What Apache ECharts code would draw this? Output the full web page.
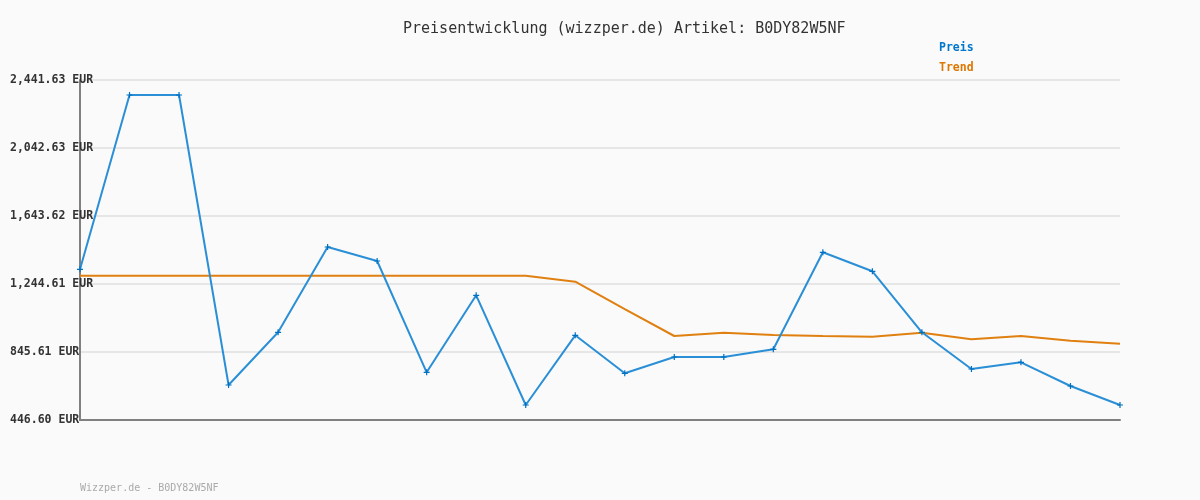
<!DOCTYPE html>
<html>
<head>
<meta charset="utf-8">
<script src="https://cdn.jsdelivr.net/npm/echarts@6/dist/echarts.min.js"></script>
<style>
html,body{margin:0;padding:0;background:#fafafa;}
#chart{width:1200px;height:500px;}
</style>
</head>
<body>
<div id="chart"></div>
<script>
const categories = ['1','2','3','4','5','6','7','8','9','10','11','12','13','14','15','16','17','18','19','20','21','22'];
const preis = [1330.9, 2353.6, 2353.6, 652.0, 961.2, 1461.7, 1379.6, 726.5, 1178.3, 534.6, 943.6, 720.6, 816.3, 816.3, 861.4, 1430.6, 1319.1, 961.2, 745.9, 785.2, 646.1, 534.6];
const trend = [1293.3, 1293.3, 1293.3, 1293.3, 1293.3, 1293.3, 1293.3, 1293.3, 1293.3, 1293.3, 1258.1, 1097.9, 939.5, 958.8, 945.4, 939.5, 935.4, 958.8, 920.1, 939.5, 911.9, 894.3];
const yTicks = [446.60, 845.61, 1244.61, 1643.62, 2042.63, 2441.63];
const yTickLabels = ['446.60 EUR', '845.61 EUR', '1,244.61 EUR', '1,643.62 EUR', '2,042.63 EUR', '2,441.63 EUR'];
const titleText = 'Preisentwicklung (wizzper.de) Artikel: B0DY82W5NF';
const footerText = 'Wizzper.de - B0DY82W5NF';

const yMin = yTicks[0];
const yMax = yTicks[yTicks.length - 1];
const yInterval = (yMax - yMin) / (yTicks.length - 1);
const mono = '"DejaVu Sans Mono", "Liberation Mono", monospace';

const chart = echarts.init(document.getElementById('chart'), null, {renderer: 'canvas'});
chart.setOption({
  backgroundColor: '#fafafa',
  animation: false,
  title: {
    text: titleText,
    left: 398,
    top: 17,
    textStyle: {fontFamily: mono, fontSize: 15, fontWeight: 'normal', color: '#333'}
  },
  legend: {
    orient: 'vertical',
    left: 929,
    top: 37,
    itemGap: 8,
    icon: 'none',
    itemWidth: 0,
    itemHeight: 10,
    data: [
      {name: 'Preis', textStyle: {color: '#0077cc'}},
      {name: 'Trend', textStyle: {color: '#dd7700'}}
    ],
    textStyle: {fontFamily: mono, fontSize: 11.5, fontWeight: 'bold'}
  },
  graphic: [{
    type: 'text',
    left: 80,
    top: 483,
    style: {text: footerText, fill: '#aaaaaa', font: '10px ' + mono}
  }],
  grid: {left: 80, right: 80, top: 80, bottom: 80, containLabel: false},
  xAxis: {
    type: 'category',
    data: categories,
    boundaryGap: false,
    axisLine: {show: true, lineStyle: {color: '#808080', width: 2}},
    axisTick: {show: false},
    axisLabel: {show: false},
    splitLine: {show: false}
  },
  yAxis: {
    type: 'value',
    min: yMin,
    max: yMax,
    interval: yInterval,
    axisLine: {show: true, lineStyle: {color: '#808080', width: 2}},
    axisTick: {show: false},
    axisLabel: {
      align: 'left',
      margin: 70,
      color: '#333',
      fontFamily: mono,
      fontSize: 11.5,
      fontWeight: 'bold',
      formatter: function (v) {
        const i = Math.round((v - yMin) / yInterval);
        return yTickLabels[i] !== undefined ? yTickLabels[i] : '';
      }
    },
    splitLine: {show: true, lineStyle: {color: '#e6e6e6', width: 2}}
  },
  series: [
    {
      name: 'Preis',
      type: 'line',
      data: preis,
      color: '#0077cc',
      symbol: 'path://M2,0H3V2H5V3H3V5H2V3H0V2H2Z',
      symbolSize: 6,
      showSymbol: true,
      itemStyle: {color: '#0070c0'},
      lineStyle: {color: '#2a8fd6', width: 2},
      z: 3
    },
    {
      name: 'Trend',
      type: 'line',
      data: trend,
      color: '#dd7700',
      symbol: 'none',
      lineStyle: {color: '#e08010', width: 2},
      z: 2
    }
  ]
});
</script>
</body>
</html>
